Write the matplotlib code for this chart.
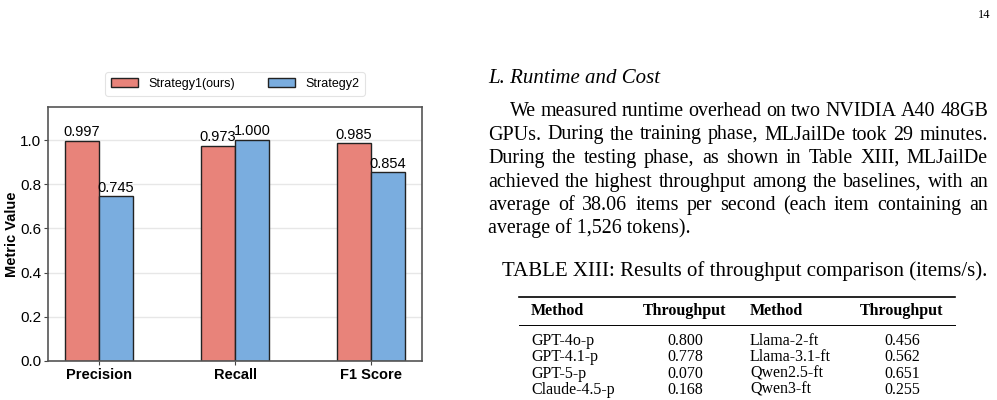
import matplotlib
matplotlib.use("Agg")
import matplotlib.pyplot as plt
from matplotlib.lines import Line2D
import numpy as np

# chart data
metrics = ["Precision", "Recall", "F1 Score"]
strategy1 = [0.997, 0.973, 0.985]
strategy2 = [0.745, 1.000, 0.854]
series_names = ["Strategy1(ours)", "Strategy2"]

# page text next to the chart
heading = "L. Runtime and Cost"
body_lines = [
    "We measured runtime overhead on two NVIDIA A40 48GB",
    "GPUs. During the training phase, MLJailDe took 29 minutes.",
    "During the testing phase, as shown in Table XIII, MLJailDe",
    "achieved the highest throughput among the baselines, with an",
    "average of 38.06 items per second (each item containing an",
    "average of 1,526 tokens).",
]
caption = "TABLE XIII: Results of throughput comparison (items/s)."
table_header = ["Method", "Throughput", "Method", "Throughput"]
methods_left = ["GPT-4o-p", "GPT-4.1-p", "GPT-5-p", "Claude-4.5-p"]
thr_left = ["0.800", "0.778", "0.070", "0.168"]
methods_right = ["Llama-2-ft", "Llama-3.1-ft", "Qwen2.5-ft", "Qwen3-ft"]
thr_right = ["0.456", "0.562", "0.651", "0.255"]
page_number = "14"

W, H = 997, 400
fig = plt.figure(figsize=(W / 100, H / 100), dpi=100)

def fx(px):
    return px / W

def fy(py):
    return 1 - py / H

# ---- bar chart ----
sans = "Liberation Sans"
ax = fig.add_axes([fx(48), fy(361), fx(374), 254 / H])
x = np.arange(len(metrics))
w = 0.25
red = "#E8837A"
blue = "#7AADDF"
b1 = ax.bar(x - w / 2, strategy1, w, color=red, edgecolor="#222222", linewidth=1.0,
            label=series_names[0], zorder=3)
b2 = ax.bar(x + w / 2, strategy2, w, color=blue, edgecolor="#222222", linewidth=1.0,
            label=series_names[1], zorder=3)
for bars in (b1, b2):
    for r in bars:
        ax.text(r.get_x() + r.get_width() / 2, r.get_height() + 0.008, f"{r.get_height():.3f}",
                ha="center", va="bottom", fontsize=10.5, family=sans, zorder=4)

ax.set_ylim(0, 1.15)
ax.set_yticks(np.arange(0, 1.01, 0.2))
ax.set_yticklabels([f"{v:.1f}" for v in np.arange(0, 1.01, 0.2)], family=sans, fontsize=11)
ax.set_xticks(x)
ax.set_xticklabels(metrics, family=sans, fontsize=10.5, fontweight="bold")
ax.set_ylabel("Metric Value", family=sans, fontsize=10.5, fontweight="bold")
ax.yaxis.set_label_coords(-0.078, 0.5)
ax.grid(axis="y", color="#d8d8d8", linewidth=1.0, alpha=0.6, zorder=4)
ax.tick_params(axis="both", length=3, pad=2, color="#444444")
for s in ax.spines.values():
    s.set_color("#555555")
    s.set_linewidth(1.2)
    s.set_zorder(5)

leg = ax.legend(loc="lower center", bbox_to_anchor=(0.5, 1.02), ncol=2, frameon=True,
                prop={"family": sans, "size": 9}, handlelength=2.2, handleheight=0.8,
                columnspacing=2.6, borderpad=0.45, edgecolor="#dddddd", fancybox=True)
leg.get_frame().set_linewidth(0.8)

# ---- page text ----
serif = "Liberation Serif"
fs = 14.4
fig.text(fx(488), fy(83), heading, family=serif, style="italic", fontsize=15, va="baseline")

fig.canvas.draw()
renderer = fig.canvas.get_renderer()
left, right = 488, 988
base = 116
for i, line in enumerate(body_lines):
    start = 510 if i == 0 else left
    yy = fy(base + i * 23.5)
    words = line.split(" ")
    if i == len(body_lines) - 1:
        fig.text(fx(start), yy, line, family=serif, fontsize=fs, va="baseline")
        continue
    # spread words so the line is justified
    objs = [fig.text(0, yy, wd, family=serif, fontsize=fs, va="baseline") for wd in words]
    widths = [o.get_window_extent(renderer).width for o in objs]
    gap = (right - start - sum(widths)) / (len(words) - 1)
    pos = start
    for o, wdt in zip(objs, widths):
        o.set_x(fx(pos))
        pos += wdt + gap

fig.text(fx(502), fy(276), caption, family=serif, fontsize=15, va="baseline")

tfs = 11.5
fig.add_artist(Line2D([fx(519), fx(955)], [fy(297), fy(297)], color="black", linewidth=1.2))
fig.add_artist(Line2D([fx(519), fx(955)], [fy(325), fy(325)], color="black", linewidth=0.7))
col_x = [531, 685, 750, 902]
col_ha = ["left", "center", "left", "center"]
for cx, ha, hd in zip(col_x, col_ha, table_header):
    fig.text(fx(cx), fy(315), hd, family=serif, fontsize=tfs, fontweight="bold", ha=ha, va="baseline")
for j in range(len(methods_left)):
    yy = fy(345 + j * 16.3)
    row = [methods_left[j], thr_left[j], methods_right[j], thr_right[j]]
    for cx, ha, val in zip(col_x, col_ha, row):
        fig.text(fx(cx), yy, val, family=serif, fontsize=tfs, ha=ha, va="baseline")

fig.text(fx(990), fy(18), page_number, family=serif, fontsize=9, ha="right", va="baseline")

fig.savefig("out.png", dpi=100)
